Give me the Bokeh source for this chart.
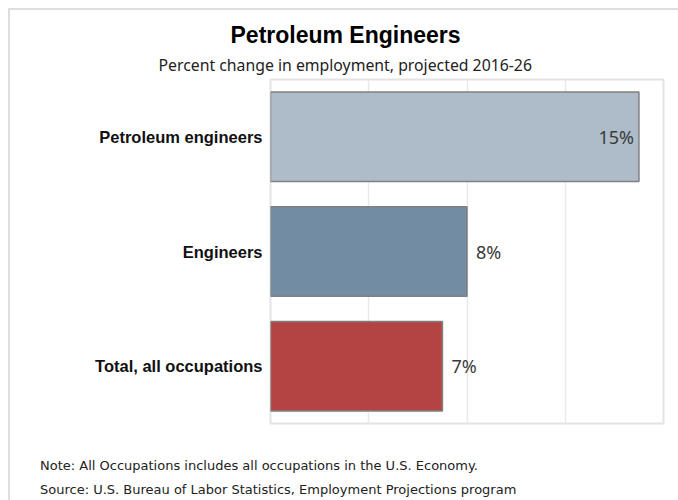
from bokeh.plotting import figure
from bokeh.models import ColumnDataSource, FixedTicker, FactorRange, Range1d, Title, Div
from bokeh.layouts import column
from bokeh.core.properties import value
from bokeh.embed import file_html
from bokeh.resources import INLINE

categories = ["Petroleum engineers", "Engineers", "Total, all occupations"]
changes = [15, 8, 7]
bar_colors = ["#adbcc8", "#728da3", "#b44343"]
x_ticks = [0, 4, 8, 12, 16]
title_text = "Petroleum Engineers"
subtitle_text = "Percent change in employment, projected 2016-26"
notes = [
    "Note: All Occupations includes all occupations in the U.S. Economy.",
    "Source: U.S. Bureau of Labor Statistics, Employment Projections program",
]

src = ColumnDataSource(dict(cat=categories, val=changes, color=bar_colors))

p = figure(
    width=668, height=433,
    y_range=FactorRange(*reversed(categories)),
    x_range=Range1d(x_ticks[0], x_ticks[-1]),
    output_backend="svg", toolbar_location=None,
    min_border_left=260, min_border_right=15,
    min_border_top=69, min_border_bottom=20,
)
p.background_fill_color = "white"
p.border_fill_color = "white"
p.outline_line_color = "#e3e3e3"
p.outline_line_width = 2

p.hbar(y="cat", left=0, right="val", height=0.78, fill_color="color",
       line_color="#808080", line_width=1.5, source=src)

mx = max(changes)
inside = ColumnDataSource(dict(
    cat=[c for c, v in zip(categories, changes) if v == mx],
    val=[v for v in changes if v == mx],
    label=[f"{v}%" for v in changes if v == mx],
))
outside = ColumnDataSource(dict(
    cat=[c for c, v in zip(categories, changes) if v != mx],
    val=[v for v in changes if v != mx],
    label=[f"{v}%" for v in changes if v != mx],
))
p.text(x="val", y="cat", text="label", source=inside, x_offset=-5,
       text_align="right", text_baseline="middle",
       text_font=value("Noto Sans"), text_font_size="18px", text_color="#3a3a3a")
p.text(x="val", y="cat", text="label", source=outside, x_offset=9,
       text_align="left", text_baseline="middle",
       text_font=value("Noto Sans"), text_font_size="18px", text_color="#3a3a3a")

p.xaxis.visible = False
p.xgrid.ticker = FixedTicker(ticks=x_ticks)
p.xgrid.grid_line_color = "#e9e9e9"
p.xgrid.grid_line_width = 1.5
p.ygrid.visible = False

ax = p.yaxis[0]
ax.axis_line_color = None
ax.major_tick_line_color = None
ax.minor_tick_line_color = None
ax.major_tick_out = 0
ax.major_tick_in = 0
ax.major_label_standoff = 8
ax.major_label_text_font = "Liberation Sans"
ax.major_label_text_font_style = "bold"
ax.major_label_text_font_size = "16.5px"
ax.major_label_text_color = "#111111"

# titles above (first added sits closest to the frame)
p.add_layout(Title(text=subtitle_text, align="left", offset=-112, standoff=8,
                   text_font="Noto Sans", text_font_size="15.8px",
                   text_font_style="normal", text_color="#222222"), "above")
p.add_layout(Title(text=title_text, align="left", offset=-40, standoff=0,
                   text_font="Liberation Sans", text_font_size="23px",
                   text_font_style="bold", text_color="#000000"), "above")

notes_div = Div(
    text=('<div style="padding:6px 0 0 25px; line-height:24px; white-space:nowrap;">'
          f'{notes[0]}<br>{notes[1]}</div>'),
    width=668, height=54,
    styles={"font-family": "DejaVu Sans", "font-size": "13px",
            "color": "#222222", "overflow": "hidden", "background": "white"},
)

layout = column(p, notes_div, spacing=0)
layout.styles = {"border-top": "2px solid #dedede", "border-left": "2px solid #dedede",
                 "margin-left": "8px", "margin-top": "8px"}

open("out.html", "w").write(file_html(layout, INLINE))
